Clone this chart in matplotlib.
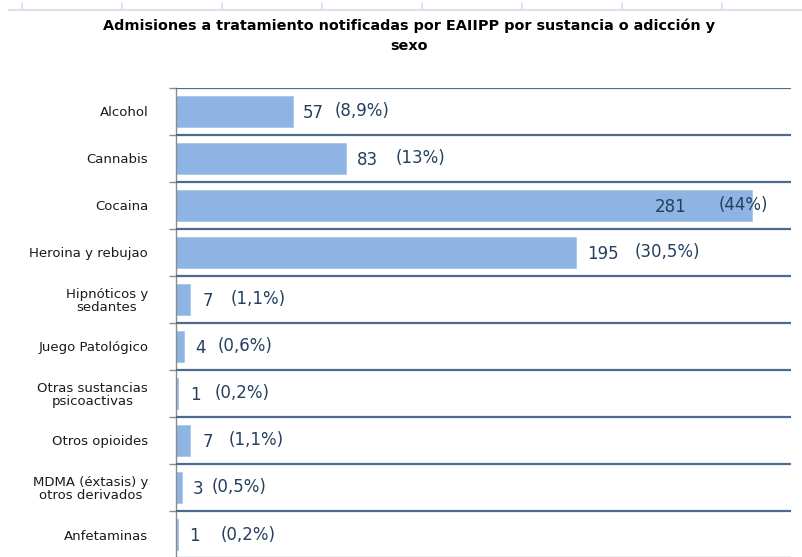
import matplotlib.pyplot as plt
from matplotlib.lines import Line2D

plt.rcParams['font.family'] = 'DejaVu Sans'

categorias = ['Alcohol', 'Cannabis', 'Cocaina', 'Heroina y rebujao',
              'Hipnóticos y\nsedantes', 'Juego Patológico',
              'Otras sustancias\npsicoactivas', 'Otros opioides',
              'MDMA (éxtasis) y\notros derivados', 'Anfetaminas']
admisiones = [57, 83, 281, 195, 7, 4, 1, 7, 3, 1]
porcentajes = ['(8,9%)', '(13%)', '(44%)', '(30,5%)', '(1,1%)', '(0,6%)',
               '(0,2%)', '(1,1%)', '(0,5%)', '(0,2%)']

# label offsets from the bar end, in pixels (as placed in the original)
off_valor = [10, 11, -97, 11, 12, 11, 12, 12, 11, 11]
off_pct = [42, 49, -33, 59, 40, 33, 37, 38, 29, 43]

bar_color = '#8EB4E3'
line_color = '#4F6A8F'
label_color = '#243F60'

fig = plt.figure(figsize=(8.03, 5.57), dpi=100)
W, H = 803, 557
ax = fig.add_axes([176 / W, 1 - 558 / H, 615 / W, 470 / H])

n = len(categorias)
ys = list(range(n))
ax.barh(ys, admisiones, height=0.68, color=bar_color, edgecolor='#a9c6ea',
        linewidth=0.6, zorder=2)

ax.set_xlim(0, 300)
ax.set_ylim(n - 0.5, -0.5)

# separators between rows
for b in range(n + 1):
    ax.axhline(b - 0.5, color=line_color, lw=1.6, zorder=3)

ax.set_yticks([b - 0.5 for b in range(n + 1)])
ax.set_yticklabels([])
ax.set_yticks(ys, minor=True)
ax.set_yticklabels(categorias, minor=True, fontsize=9.5, color='#1a1a1a',
                   multialignment='center', linespacing=1.0)
ax.tick_params(axis='y', which='major', length=5, width=1, color='#8c8c8c',
               direction='out')
ax.tick_params(axis='y', which='minor', length=0, pad=20)
ax.set_xticks([])
for s in ['top', 'right', 'bottom']:
    ax.spines[s].set_visible(False)
ax.spines['left'].set_color('#8c8c8c')
ax.spines['left'].set_linewidth(1)

for i, v in enumerate(admisiones):
    ax.annotate(str(v), (v, i), xytext=(off_valor[i] * 0.72, -1),
                textcoords='offset points', va='center', ha='left',
                fontsize=12, color=label_color, zorder=4)
    ax.annotate(porcentajes[i], (v, i), xytext=(off_pct[i] * 0.72, 0),
                textcoords='offset points', va='center', ha='left',
                fontsize=12, color=label_color, zorder=4)

fig.text(409 / W, 1 - 26 / H,
         'Admisiones a tratamiento notificadas por EAIIPP por sustancia o adicción y',
         ha='center', va='center', fontsize=10.4, fontweight='bold')
fig.text(409 / W, 1 - 46 / H, 'sexo', ha='center', va='center',
         fontsize=10.4, fontweight='bold')

# faint ruler line left over at the top of the picture
fig.add_artist(Line2D([9 / W, 1], [1 - 10 / H, 1 - 10 / H], color='#dde0ea', lw=1.5))
for tx in range(22, 803, 100):
    fig.add_artist(Line2D([tx / W, tx / W], [1 - 3 / H, 1 - 10 / H],
                          color='#dde0ea', lw=1.2))

fig.savefig('out.png', dpi=100)
